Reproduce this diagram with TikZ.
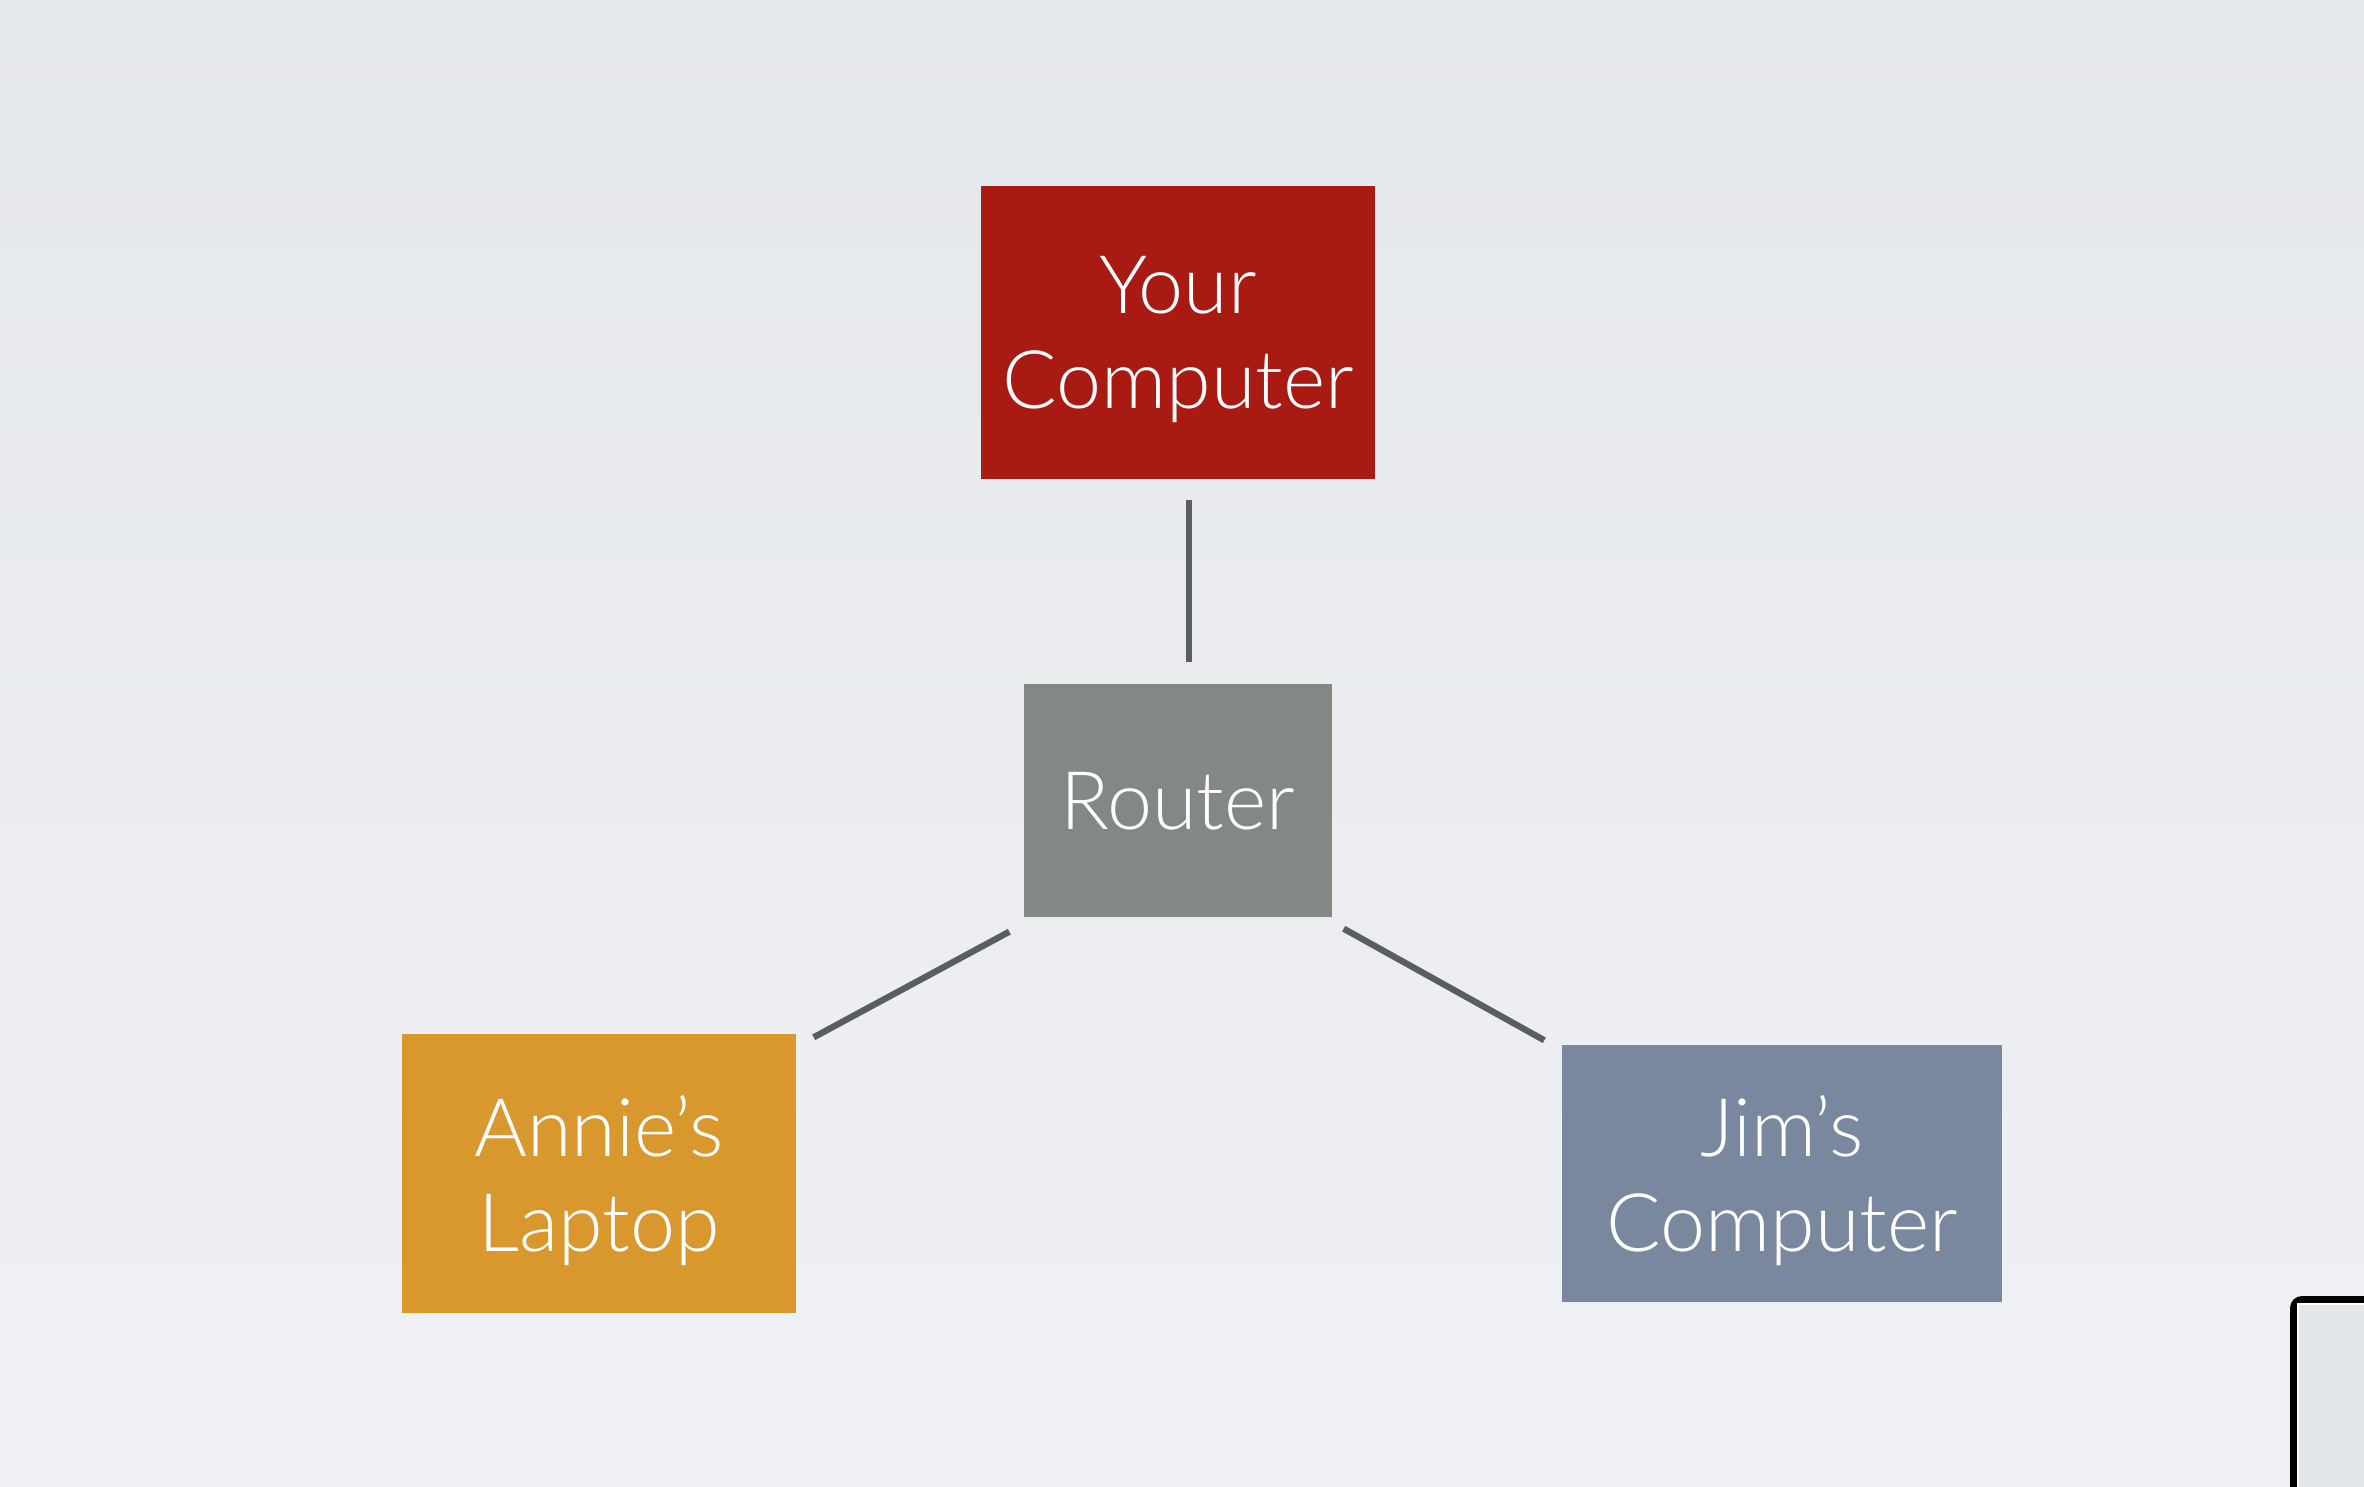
\documentclass[tikz,border=0pt]{standalone}
\usepackage{fontspec}
\setmainfont{Lato Light}
\usepackage{tikz}
\usetikzlibrary{positioning}
\definecolor{bgtop}{HTML}{E4E7EB}
\definecolor{bgbottom}{HTML}{F0F1F4}
\definecolor{pcred}{HTML}{A81A12}
\definecolor{routergray}{HTML}{838885}
\definecolor{laptoporange}{HTML}{D9982E}
\definecolor{jimslate}{HTML}{7A889F}
\definecolor{linkgray}{HTML}{5A5E5E}
\definecolor{framefill}{HTML}{E3E6EA}

\begin{document}
\begin{tikzpicture}[device/.style={rectangle, draw=none, text=white, align=center, inner sep=0pt, text depth=0pt, font=\fontsize{23}{27}\selectfont}, link/.style={draw=linkgray, line width=1.8pt}]
            \useasboundingbox (0,0) rectangle (23.64,14.86);
            \clip (0,0) rectangle (23.64,14.86);
            \shade[top color=bgtop, bottom color=bgbottom] (0,0) rectangle (23.64,14.86);

            \node[device, fill=pcred, minimum width=3.94cm, minimum height=2.93cm](yourpc) at (11.78, 11.535) {Your\\Computer};
            \node[device, fill=routergray, minimum width=3.08cm, minimum height=2.33cm](router) at (11.78, 6.855) {Router};
            \node[device, fill=laptoporange, minimum width=3.94cm, minimum height=2.79cm](annie) at (5.99, 3.125) {Annie’s\\Laptop};
            \node[device, fill=jimslate, minimum width=4.40cm, minimum height=2.57cm](jim) at (17.82, 3.125) {Jim’s\\Computer};

            \draw[link] ([xshift=0.11cm, yshift=-0.2cm]yourpc.south) to ([xshift=0.11cm, yshift=0.21cm]router.north);
            \draw[link] ([xshift=-0.14cm, yshift=-0.14cm]router.south west) to ([xshift=0.17cm, yshift=-0.04cm]annie.north east);
            \draw[link] ([xshift=0.11cm, yshift=-0.11cm]router.south east) to ([xshift=-0.17cm, yshift=0.04cm]jim.north west);

            % frame in the corner
            \fill[black, rounded corners=0.12cm] (22.90, -0.5) rectangle (24.5, 1.90);
            \fill[framefill, draw=white, line width=0.4pt] (22.98, -0.5) rectangle (24.5, 1.82);
        \end{tikzpicture}
\end{document}
